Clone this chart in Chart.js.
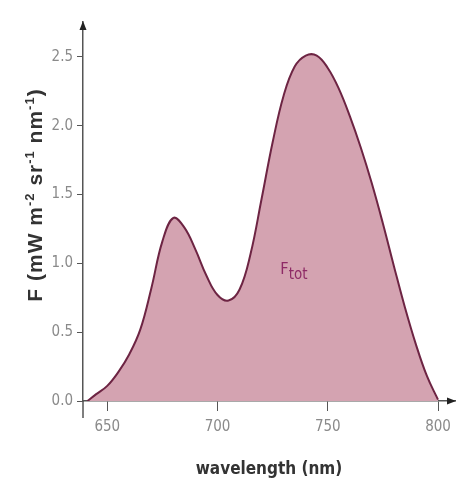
<!DOCTYPE html>
<html>
<head>
<meta charset="utf-8">
<script src="https://cdn.jsdelivr.net/npm/chart.js@4.4.1/dist/chart.umd.min.js"></script>
<style>
  html, body { margin: 0; padding: 0; background: #fff; }
</style>
</head>
<body>
<canvas id="fluoChart" width="471" height="485"></canvas>
<script>
// wavelength (nm) and total fluorescence F (mW m-2 sr-1 nm-1)
var wavelength = [641, 645, 650, 655, 660, 665, 670, 675, 680, 685, 690, 695, 700, 705,
                  710, 715, 720, 725, 730, 735, 740, 745, 750, 755, 760, 765, 770, 775,
                  780, 785, 790, 795, 800];
var fluorescence = [0.00, 0.05, 0.11, 0.21, 0.34, 0.52, 0.82, 1.16, 1.33, 1.26, 1.10, 0.91, 0.77, 0.73,
                    0.81, 1.07, 1.47, 1.88, 2.22, 2.43, 2.51, 2.51, 2.42, 2.27, 2.07, 1.84, 1.58, 1.29,
                    0.98, 0.68, 0.41, 0.18, 0.01];
var xTicks = [650, 700, 750, 800];
var yTicks = [0, 0.5, 1.0, 1.5, 2.0, 2.5];
var seriesLabel = 'Ftot';

var axisColor = '#555';
var tickColor = '#8a8a8a';
var titleColor = '#333';
var tickFont = "'Liberation Sans Narrow', 'DejaVu Sans Condensed', sans-serif";
var titleFont = "'DejaVu Sans Condensed', sans-serif";

// arrows at the axis ends, y axis stub below the x axis, y title and the curve label
var axisDecor = {
    id: 'axisDecor',
    afterDraw: function (chart) {
        var ctx = chart.ctx;
        var xs = chart.scales.x, ys = chart.scales.y;
        var x0 = xs.left, y0 = ys.getPixelForValue(0);
        ctx.save();

        ctx.strokeStyle = axisColor;
        ctx.lineWidth = 1.5;
        ctx.beginPath();
        ctx.moveTo(x0, y0);
        ctx.lineTo(x0, y0 + 17);
        ctx.stroke();

        ctx.fillStyle = '#222';
        ctx.beginPath();
        ctx.moveTo(x0, ys.top - 1);
        ctx.lineTo(x0 - 3.5, ys.top + 8);
        ctx.lineTo(x0 + 3.5, ys.top + 8);
        ctx.closePath();
        ctx.fill();
        ctx.beginPath();
        ctx.moveTo(xs.right + 1, y0);
        ctx.lineTo(xs.right - 8, y0 - 3.5);
        ctx.lineTo(xs.right - 8, y0 + 3.5);
        ctx.closePath();
        ctx.fill();

        // y axis title with superscripts
        var parts = [['F (mW m', false], ['-2', true], [' sr', false], ['-1', true],
                     [' nm', false], ['-1', true], [')', false]];
        var big = 'bold 21px ' + "'Liberation Sans', Arial, sans-serif";
        var small = 'bold 13px ' + "'Liberation Sans', Arial, sans-serif";
        ctx.letterSpacing = '1px';
        var total = 0;
        parts.forEach(function (p) { ctx.font = p[1] ? small : big; total += ctx.measureText(p[0]).width; });
        ctx.translate(36, 195);
        ctx.rotate(-Math.PI / 2);
        ctx.fillStyle = titleColor;
        ctx.textBaseline = 'middle';
        var pos = -total / 2;
        parts.forEach(function (p) {
            ctx.font = p[1] ? small : big;
            ctx.fillText(p[0], pos, p[1] ? -6 : 0);
            pos += ctx.measureText(p[0]).width;
        });
        ctx.setTransform(1, 0, 0, 1, 0, 0);
        ctx.letterSpacing = '0px';

        // curve label F_tot
        var lx = xs.getPixelForValue(728.5), ly = ys.getPixelForValue(0.92);
        ctx.fillStyle = '#8e2a66';
        ctx.textBaseline = 'alphabetic';
        ctx.font = '16px ' + tickFont;
        ctx.fillText(seriesLabel.charAt(0), lx, ly);
        var fw = ctx.measureText(seriesLabel.charAt(0)).width;
        ctx.font = '15px ' + tickFont;
        ctx.fillText(seriesLabel.slice(1), lx + fw, ly + 5);
        ctx.restore();
    }
};

new Chart(document.getElementById('fluoChart').getContext('2d'), {
    type: 'line',
    data: {
        datasets: [{
            label: seriesLabel,
            data: wavelength.map(function (w, i) { return { x: w, y: fluorescence[i] }; }),
            borderColor: '#6d2443',
            borderWidth: 2,
            backgroundColor: '#d4a3b1',
            fill: 'origin',
            pointRadius: 0,
            tension: 0.4
        }]
    },
    options: {
        responsive: false,
        animation: false,
        layout: { padding: { top: 22, right: 16, left: 0, bottom: 0 } },
        plugins: { legend: { display: false }, tooltip: { enabled: false } },
        scales: {
            x: {
                type: 'linear',
                min: 639,
                max: 807.7,
                afterFit: function (scale) { scale.height = 84; },
                afterBuildTicks: function (scale) {
                    scale.ticks = xTicks.map(function (v) { return { value: v }; });
                },
                grid: { drawOnChartArea: false, drawTicks: true, tickLength: 10, color: axisColor, lineWidth: 1 },
                border: { display: true, color: axisColor, width: 1.5 },
                ticks: { color: tickColor, padding: 7, maxRotation: 0, font: { family: tickFont, size: 15 } },
                title: {
                    display: true,
                    text: 'wavelength (nm)',
                    color: titleColor,
                    font: { family: titleFont, size: 17, weight: 'bold' },
                    padding: { top: 4, bottom: 5 }
                }
            },
            y: {
                min: 0,
                max: 2.754,
                afterFit: function (scale) { scale.width = 83; },
                afterBuildTicks: function (scale) {
                    scale.ticks = yTicks.map(function (v) { return { value: v }; });
                },
                grid: { drawOnChartArea: false, drawTicks: true, tickLength: 6, color: axisColor, lineWidth: 1 },
                border: { display: true, color: axisColor, width: 1.5 },
                ticks: {
                    color: tickColor,
                    padding: 4,
                    font: { family: tickFont, size: 15 },
                    callback: function (v) { return v.toFixed(1); }
                }
            }
        }
    },
    plugins: [axisDecor]
});
</script>
</body>
</html>
